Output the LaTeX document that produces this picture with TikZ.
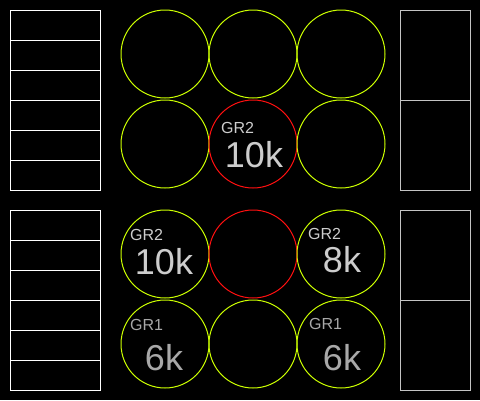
\documentclass[tikz,border=0pt]{standalone}
\usepackage{fontspec}
\setmainfont{Liberation Sans}
\definecolor{lime}{HTML}{CCFF00}
\definecolor{redc}{HTML}{FF1010}
\definecolor{lgray}{HTML}{CDCDCD}
\definecolor{dgray}{HTML}{A8A8A8}
\definecolor{rgray}{HTML}{C4C4C4}
\begin{document}
\begin{tikzpicture}[x=1pt,y=-1pt,
  ring/.style={circle,draw=lime,line width=1pt,minimum size=88pt,inner sep=0pt},
  hotring/.style={ring,draw=redc},
  grlabel/.style={anchor=base west,inner sep=0pt,font=\fontsize{16}{16}\selectfont},
  vallabel/.style={anchor=base,inner sep=0pt,font=\fontsize{36}{36}\selectfont},
  lbox/.style={draw=white,line width=1pt},
  rbox/.style={draw=rgray,line width=1pt}]
\fill[black] (0,0) rectangle (480,400);
\useasboundingbox (0,0) rectangle (480,400);
% left racks
\foreach \y in {10,210}{
  \draw[lbox] (10,\y) rectangle (100,\y+180);
  \foreach \k in {1,...,5}{\draw[lbox] (10,\y+30*\k) -- (100,\y+30*\k);}
}
% right racks
\foreach \y in {10,210}{
  \draw[rbox] (400,\y) rectangle (470,\y+180);
  \draw[rbox] (400,\y+90) -- (470,\y+90);
}
% circles
\node[ring] (c11) at (165,54) {};
\node[ring] (c12) at (253,54) {};
\node[ring] (c13) at (341,54) {};
\node[ring] (c21) at (165,144) {};
\node[hotring] (c22) at (253,144) {};
\node[ring] (c23) at (341,144) {};
\node[ring] (c31) at (165,254) {};
\node[hotring] (c32) at (253,254) {};
\node[ring] (c33) at (341,254) {};
\node[ring] (c41) at (165,344) {};
\node[ring] (c42) at (253,344) {};
\node[ring] (c43) at (341,344) {};
% labels
\node[grlabel,text=lgray] (g22) at (221,133) {GR2};
\node[vallabel,text=lgray] (v22) at (254,167) {10k};
\node[grlabel,text=lgray] (g31) at (130,240) {GR2};
\node[vallabel,text=lgray] (v31) at (164,274) {10k};
\node[grlabel,text=lgray] (g33) at (308,239) {GR2};
\node[vallabel,text=lgray] (v33) at (342,272) {8k};
\node[grlabel,text=dgray] (g41) at (130,330) {GR1};
\node[vallabel,text=dgray] (v41) at (164,370) {6k};
\node[grlabel,text=dgray] (g43) at (309,329) {GR1};
\node[vallabel,text=dgray] (v43) at (342,370) {6k};
\end{tikzpicture}
\end{document}
